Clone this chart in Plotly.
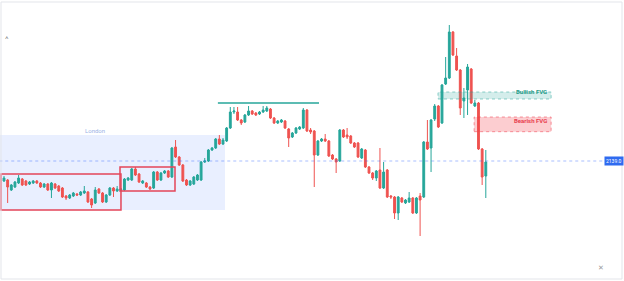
import plotly.graph_objects as go

# ---- data (price units) ----
idx = list(range(133))
open_ = [2119,2120,2110,2113,2117,2121,2119,2116,2117,2119,2117,2113,2116,2110,2116,2114,2112,2104,2102,2104,
         2106,2105,2107,2108,2101,2097,2111,2107,2098,2105,2112,2109,2110,2110,2120,2120,2131,2126,2117,2117,
         2113,2112,2128,2120,2127,2129,2123,2153,2143,2135,2120,2115,2116,2120,2120,2138,2139,2150,2152,2161,
         2156,2159,2172,2188,2188,2180,2178,2185,2189,2187,2186,2188,2189,2191,2182,2177,2178,2179,2171,2163,
         2167,2171,2172,2190,2170,2169,2145,2159,2161,2159,2145,2141,2139,2170,2165,2164,2157,2157,2142,2150,
         2133,2127,2122,2130,2112,2130,2104,2103,2087,2102,2097,2098,2102,2087,2104,2103,2158,2152,2181,2194,
         2177,2216,2222,2268,2244,2230,2199,2210,2231,2194,2197,2151,2124]
close = [2122,2113,2115,2118,2122,2115,2115,2118,2119,2117,2113,2116,2110,2117,2112,2109,2103,2102,2105,2107,
         2105,2108,2109,2098,2095,2110,2107,2098,2105,2112,2109,2111,2111,2121,2122,2131,2125,2118,2119,2113,
         2111,2128,2120,2127,2129,2123,2152,2143,2135,2119,2115,2119,2123,2125,2138,2139,2150,2152,2161,2156,
         2160,2172,2188,2189,2180,2177,2185,2189,2186,2185,2188,2190,2192,2182,2177,2179,2180,2172,2162,2167,
         2172,2173,2190,2169,2168,2145,2159,2161,2159,2144,2141,2138,2170,2163,2163,2157,2153,2143,2151,2133,
         2127,2122,2129,2112,2128,2103,2103,2087,2103,2098,2100,2102,2087,2102,2100,2158,2151,2180,2194,2173,
         2215,2222,2268,2245,2230,2192,2202,2233,2197,2197,2151,2123,2138]
high = [2124,2121,2116,2119,2125,2122,2120,2119,2120,2120,2118,2117,2117,2118,2117,2115,2113,2105,2106,2108,
        2107,2109,2114,2109,2102,2113,2112,2108,2106,2113,2113,2114,2112,2122,2123,2132,2133,2127,2120,2118,
        2114,2129,2129,2128,2130,2130,2153,2160,2144,2136,2121,2120,2124,2126,2139,2142,2151,2153,2162,2165,
        2162,2173,2193,2193,2193,2181,2186,2194,2190,2188,2189,2194,2194,2192,2183,2180,2181,2180,2172,2168,
        2173,2174,2192,2191,2172,2170,2160,2162,2166,2160,2146,2142,2171,2171,2172,2165,2158,2158,2152,2151,
        2134,2128,2130,2152,2138,2131,2105,2104,2104,2103,2101,2108,2103,2103,2107,2159,2180,2181,2196,2195,
        2216,2243,2275,2269,2252,2231,2212,2236,2232,2200,2198,2152,2150]
low = [2118,2097,2109,2112,2116,2114,2114,2115,2116,2116,2112,2112,2109,2102,2111,2108,2102,2100,2101,2103,
       2104,2104,2106,2097,2092,2096,2106,2097,2097,2104,2103,2108,2109,2109,2119,2119,2124,2117,2116,2112,
       2110,2111,2119,2119,2126,2122,2122,2142,2134,2118,2114,2114,2115,2119,2119,2137,2138,2149,2151,2155,
       2155,2158,2171,2186,2179,2175,2177,2184,2185,2184,2185,2187,2188,2181,2176,2176,2177,2171,2153,2162,
       2166,2170,2171,2168,2166,2113,2144,2158,2158,2143,2140,2127,2138,2162,2161,2156,2152,2142,2141,2132,
       2126,2120,2119,2111,2111,2102,2101,2081,2080,2097,2096,2097,2086,2086,2064,2102,2150,2128,2179,2172,
       2176,2215,2221,2244,2229,2185,2182,2185,2196,2193,2150,2115,2102]

last_price = 2139
price_label = "2139.0"
session_name = "London"
bull_label = "Bullish FVG"
bear_label = "Bearish FVG"

GREEN = "#26a69a"
RED = "#ef5350"

fig = go.Figure()
fig.add_trace(go.Candlestick(
    x=idx, open=open_, high=high, low=low, close=close,
    increasing=dict(line=dict(color=GREEN, width=1), fillcolor=GREEN),
    decreasing=dict(line=dict(color=RED, width=1), fillcolor=RED),
    whiskerwidth=0, hoverinfo="skip", showlegend=False,
))

shapes = []
# London session box
shapes.append(dict(type="rect", xref="x", yref="y", x0=-1.3, x1=60.55, y0=2090, y1=2165,
                   fillcolor="rgba(41,98,255,0.10)", line=dict(width=0), layer="below"))
# range boxes
shapes.append(dict(type="rect", xref="x", yref="y", x0=-0.82, x1=32.05, y0=2090, y1=2126,
                   line=dict(color="#e4455a", width=1.5), fillcolor="rgba(0,0,0,0)"))
shapes.append(dict(type="rect", xref="x", yref="y", x0=31.78, x1=46.85, y0=2109, y1=2133,
                   line=dict(color="#e4455a", width=1.5), fillcolor="rgba(0,0,0,0)"))
# high line
shapes.append(dict(type="line", xref="x", yref="y", x0=58.6, x1=86.3, y0=2197, y1=2197,
                   line=dict(color=GREEN, width=1.5)))
# last price dotted line
shapes.append(dict(type="line", xref="x", yref="y", x0=-1.3, x1=164.7, y0=last_price, y1=last_price,
                   line=dict(color="rgba(41,98,255,0.4)", width=1, dash="dot")))
# FVG boxes
shapes.append(dict(type="rect", xref="x", yref="y", x0=118.9, x1=149.9, y0=2201, y1=2208,
                   fillcolor="rgba(38,166,154,0.2)", line=dict(color="rgba(38,166,154,0.5)", width=1, dash="dot")))
shapes.append(dict(type="rect", xref="x", yref="y", x0=128.8, x1=149.9, y0=2168.3, y1=2183,
                   fillcolor="rgba(242,54,69,0.25)", line=dict(color="rgba(242,54,69,0.5)", width=1, dash="dot")))
# frame
shapes.append(dict(type="rect", xref="paper", yref="paper", x0=0.0016, x1=0.9968, y0=0.0071, y1=0.9929,
                   line=dict(color="#e3e5ea", width=1), fillcolor="rgba(0,0,0,0)", layer="above"))

fig.update_layout(shapes=shapes)

ann = [
    dict(x=24.9, y=2170, text=session_name, showarrow=False, xref="x", yref="y",
         font=dict(size=6, color="#9bb3e6", family="Roboto")),
    dict(x=149.4, y=2208.5, text="<b>%s</b>" % bull_label, showarrow=False, xref="x", yref="y",
         xanchor="right", font=dict(size=6, color="#1f9a88", family="Roboto")),
    dict(x=149.4, y=2180, text="<b>%s</b>" % bear_label, showarrow=False, xref="x", yref="y",
         xanchor="right", font=dict(size=6, color="#e8404f", family="Roboto")),
    dict(x=167.1, y=last_price, text=price_label, showarrow=False, xref="x", yref="y",
         bgcolor="#2f6bf0", borderpad=1, font=dict(size=5, color="white", family="Roboto")),
    dict(x=7 / 624, y=1 - 38 / 281, text="˄", showarrow=False, xref="paper", yref="paper",
         xanchor="center", yanchor="middle", font=dict(size=6, color="#555555")),
    dict(x=601 / 624, y=1 - 267 / 281, text="✕", showarrow=False, xref="paper", yref="paper",
         xanchor="center", yanchor="middle", font=dict(size=7, color="#9a9a9a")),
]
fig.update_layout(annotations=ann)

fig.update_layout(
    width=624, height=281,
    margin=dict(l=0, r=0, t=0, b=0),
    paper_bgcolor="white", plot_bgcolor="white",
    boxgap=0.28,
    xaxis=dict(range=[-1.096, 169.863], visible=False, rangeslider=dict(visible=False),
               showgrid=False, zeroline=False, fixedrange=True),
    yaxis=dict(range=[2019, 2300], visible=False, showgrid=False, zeroline=False, fixedrange=True),
    hovermode=False,
)

fig.write_html("out.html", config={"displayModeBar": False})
